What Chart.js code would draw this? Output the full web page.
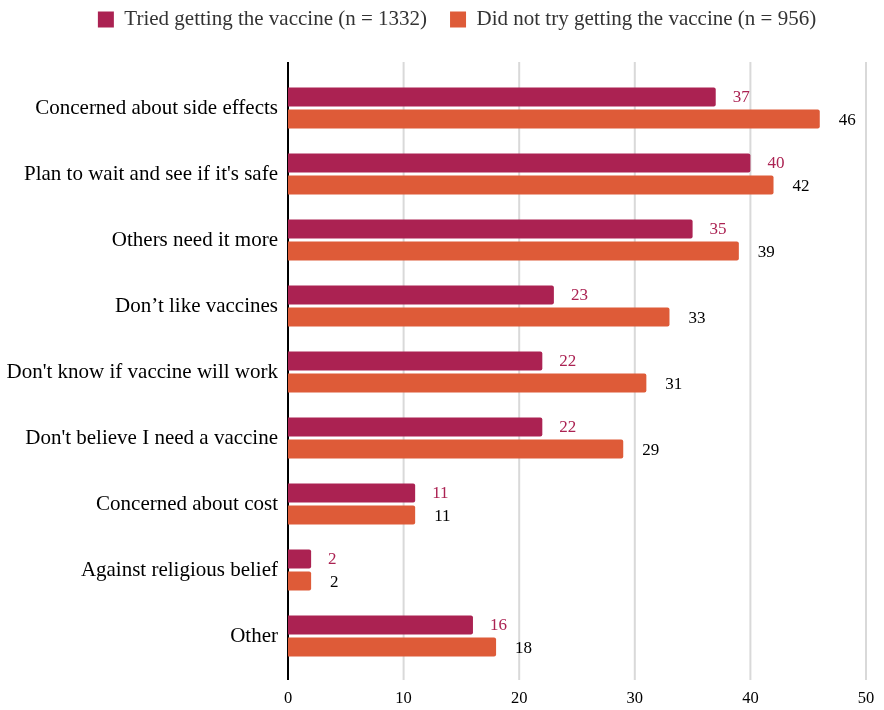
<!DOCTYPE html>
<html>
<head>
<meta charset="utf-8">
<script src="https://cdn.jsdelivr.net/npm/chart.js"></script>
<style>
  html, body { margin: 0; padding: 0; background: #fff; }
  #wrap { width: 884px; height: 710px; position: relative; }
</style>
</head>
<body>
<div id="wrap"><canvas id="reasonsChart"></canvas></div>
<script>
    const categories = [
        'Concerned about side effects',
        "Plan to wait and see if it's safe",
        'Others need it more',
        'Don\u2019t like vaccines',
        "Don't know if vaccine will work",
        "Don't believe I need a vaccine",
        'Concerned about cost',
        'Against religious belief',
        'Other'
    ];
    const triedValues = [37, 40, 35, 23, 22, 22, 11, 2, 16];
    const notTriedValues = [46, 42, 39, 33, 31, 29, 11, 2, 18];
    const seriesNames = [
        'Tried getting the vaccine (n = 1332)',
        'Did not try getting the vaccine (n = 956)'
    ];
    const xTicks = [0, 10, 20, 30, 40, 50];

    const crimson = '#AB2252';
    const orange = '#DE5B38';
    const serif = '"Liberation Serif", "Times New Roman", serif';

    const PAD_TOP = -14;
    const PAD_RIGHT = 18;
    const AREA_TOP = 75;
    const AREA_LEFT = 288;
    const AREA_BOTTOM = 669;
    const LEGEND_SHIFT = 24;

    // fix the legend height so the plot starts where the original does,
    // and nudge it right a little (the original is not quite centred)
    const legendSizePlugin = {
        id: 'legendSize',
        beforeInit(chart) {
            const leg = chart.legend;
            if (!leg) return;
            const origFit = leg.fit;
            leg.fit = function() {
                origFit.call(this);
                this.height = AREA_TOP - PAD_TOP;
            };
        },
        afterLayout(chart) {
            if (!chart.legend) return;
            chart.legend.left += LEGEND_SHIFT;
            chart.legend.right += LEGEND_SHIFT;
        }
    };

    // grid lines run a bit past the bars, like the original
    const gridPlugin = {
        id: 'extendedGrid',
        beforeDatasetsDraw(chart) {
            const ctx = chart.ctx;
            const area = chart.chartArea;
            const x = chart.scales.x;
            ctx.save();
            xTicks.forEach(t => {
                const px = x.getPixelForValue(t);
                ctx.beginPath();
                ctx.lineWidth = 2;
                ctx.strokeStyle = t === 0 ? '#000' : '#d9d9d9';
                ctx.moveTo(px, area.top - 13);
                ctx.lineTo(px, area.bottom + 11);
                ctx.stroke();
            });
            ctx.restore();
        }
    };

    const labelPlugin = {
        id: 'barValues',
        afterDatasetsDraw(chart) {
            const ctx = chart.ctx;
            ctx.save();
            ctx.font = '17px ' + serif;
            ctx.textBaseline = 'middle';
            ctx.textAlign = 'left';
            chart.data.datasets.forEach((ds, di) => {
                const meta = chart.getDatasetMeta(di);
                ctx.fillStyle = di === 0 ? crimson : '#000';
                meta.data.forEach((bar, i) => {
                    ctx.fillText(ds.data[i], bar.x + (di === 0 ? 17 : 19), bar.y + 1);
                });
            });
            ctx.restore();
        }
    };

    const ctx = document.getElementById('reasonsChart').getContext('2d');
    new Chart(ctx, {
        type: 'bar',
        data: {
            labels: categories,
            datasets: [{
                label: seriesNames[0],
                data: triedValues,
                backgroundColor: crimson,
                borderRadius: 2,
                borderSkipped: 'start'
            }, {
                label: seriesNames[1],
                data: notTriedValues,
                backgroundColor: orange,
                borderRadius: 2,
                borderSkipped: 'start'
            }]
        },
        options: {
            indexAxis: 'y',
            responsive: true,
            maintainAspectRatio: false,
            animation: false,
            datasets: {
                bar: {
                    categoryPercentage: 0.67,
                    barPercentage: 0.86
                }
            },
            layout: {
                padding: { top: PAD_TOP, right: PAD_RIGHT, bottom: 0, left: 0 }
            },
            plugins: {
                legend: {
                    position: 'top',
                    labels: {
                        boxWidth: 16,
                        boxHeight: 16,
                        padding: 23,
                        color: '#333',
                        font: { family: serif, size: 21 }
                    }
                },
                tooltip: { enabled: false }
            },
            scales: {
                x: {
                    min: 0,
                    max: 50,
                    afterBuildTicks(scale) {
                        scale.ticks = xTicks.map(v => ({ value: v }));
                    },
                    afterFit(scale) {
                        scale.height = 710 - AREA_BOTTOM;
                        scale.paddingLeft = 0;
                        scale.paddingRight = 0;
                    },
                    grid: { display: false, drawTicks: false },
                    border: { display: false },
                    ticks: {
                        padding: 20,
                        color: '#000',
                        font: { family: serif, size: 16.5 }
                    }
                },
                y: {
                    afterFit(scale) {
                        scale.width = AREA_LEFT;
                    },
                    grid: { display: false, drawTicks: false },
                    border: { display: false },
                    ticks: {
                        padding: 10,
                        color: '#000',
                        font: { family: serif, size: 21 }
                    }
                }
            }
        },
        plugins: [legendSizePlugin, gridPlugin, labelPlugin]
    });
</script>
</body>
</html>
